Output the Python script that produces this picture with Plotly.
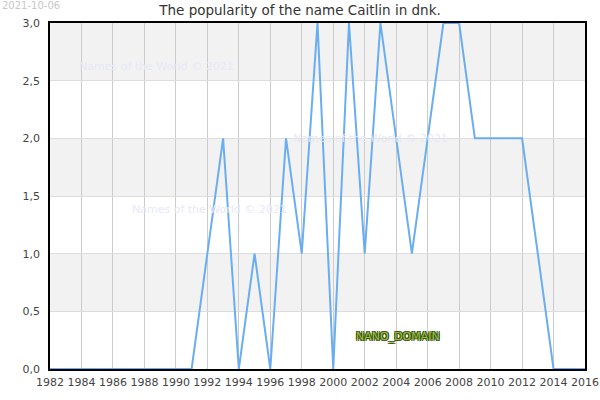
import plotly.graph_objects as go

years = list(range(1982, 2017))
values = [0, 0, 0, 0, 0, 0, 0, 0, 0, 0,   # 1982-1991
          1, 2, 0, 1, 0, 2, 1, 3, 0, 3,   # 1992-2001
          1, 3, 2, 1, 2, 3, 3, 2, 2, 2,   # 2002-2011
          2, 1, 0, 0, 0]                  # 2012-2016

title = "The popularity of the name Caitlin in dnk."
watermark = "Names of the World © 2021"
date_label = "2021-10-06"
domain_label = "NANO_DOMAIN"

fig = go.Figure()
fig.add_trace(go.Scatter(x=years, y=values, mode="lines",
                         line=dict(color="#6aaef0", width=2), hoverinfo="x+y"))

# alternating bands
for lo, hi in [(0.5, 1.0), (1.5, 2.0), (2.5, 3.0)]:
    fig.add_shape(type="rect", xref="paper", yref="y", x0=0, x1=1, y0=lo, y1=hi,
                  fillcolor="#f2f2f2", line=dict(width=0), layer="below")

for (xp, yp) in [(0.05, 0.875), (0.15, 0.46), (0.45, 0.665)]:
    fig.add_annotation(text=watermark, xref="paper", yref="paper", x=xp, y=yp,
                       xanchor="left", yanchor="middle", showarrow=False,
                       font=dict(family="DejaVu Sans", size=11, color="#e8e8f8"))

fig.add_annotation(text=date_label, xref="paper", yref="paper", x=-0.093, y=1.052,
                   xanchor="left", yanchor="middle", showarrow=False,
                   font=dict(family="DejaVu Sans", size=10, color="#c8c8c8"))

fig.add_annotation(text=domain_label, x=2004.1, y=0.28, xref="x", yref="y",
                   showarrow=False, xanchor="center", yanchor="middle",
                   font=dict(family="DejaVu Sans", size=11, color="#94c236",
                             shadow="1px 1px 0 #3b4f10, -1px -1px 0 #3b4f10, 1px -1px 0 #3b4f10, -1px 1px 0 #3b4f10"))

fig.update_layout(
    width=600, height=400,
    margin=dict(l=50, r=15, t=23, b=31, autoexpand=False),
    paper_bgcolor="white", plot_bgcolor="white",
    separators=", ",
    showlegend=False,
    title=dict(text=title, x=0.5, xanchor="center", y=0.975, yanchor="middle",
               font=dict(family="DejaVu Sans", size=13.5, color="#333333")),
    font=dict(family="DejaVu Sans", size=11, color="#333333"),
    xaxis=dict(range=[1982, 2016], tickmode="linear", tick0=1982, dtick=2,
               tickformat="d", showgrid=True, gridcolor="#cccccc", gridwidth=1,
               showline=True, linecolor="black", linewidth=1.5, mirror=True,
               zeroline=False, ticks="", automargin=False, ticklabelstandoff=2,
               tickfont=dict(size=11, color="#444")),
    yaxis=dict(range=[0, 3], tickmode="linear", tick0=0, dtick=0.5,
               tickformat=".1f", showgrid=True, gridcolor="#dddddd", gridwidth=1,
               showline=True, linecolor="black", linewidth=1.5, mirror=True,
               zeroline=False, ticks="", automargin=False, ticklabelstandoff=6,
               tickfont=dict(size=11, color="#444")),
)

fig.write_html("out.html")
